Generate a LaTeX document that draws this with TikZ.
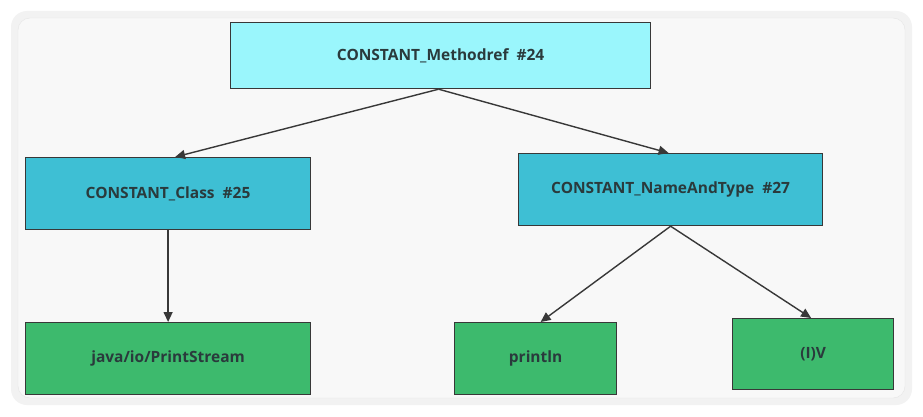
\documentclass[tikz,border=0pt]{standalone}
\usepackage{fontspec}
\setmainfont{Open Sans}
\usetikzlibrary{arrows.meta}
\definecolor{topc}{HTML}{9AF6FC}
\definecolor{midc}{HTML}{3EBFD4}
\definecolor{lowc}{HTML}{3DBA6D}
\definecolor{txt}{HTML}{2A3A3C}
\definecolor{edge}{HTML}{383838}
\definecolor{panel}{HTML}{F8F8F8}
\tikzset{
  box/.style={draw=edge, line width=1.2pt, inner sep=0pt, anchor=north west,
    font=\fontsize{15.5}{18}\selectfont\bfseries, text=txt},
  conn/.style={draw=edge, line width=1.4pt, -{Triangle[length=10pt,width=9pt]}},
}
\begin{document}
\begin{tikzpicture}[x=1pt,y=-1pt]
\useasboundingbox (0,0) rectangle (923,417);
\fill[white] (0,0) rectangle (923,417);
\fill[black!5, rounded corners=16pt] (11,11) rectangle (912,405);
\fill[panel, draw=black!10, rounded corners=12pt] (18,18) rectangle (905,398);
\node[box, fill=topc, minimum width=420pt, minimum height=66pt] (m) at (230,22) {CONSTANT\_Methodref\ \ \#24};
\node[box, fill=midc, minimum width=285pt, minimum height=72pt] (c) at (25,157) {CONSTANT\_Class\ \ \#25};
\node[box, fill=midc, minimum width=304pt, minimum height=72pt] (n) at (518,153) {CONSTANT\_NameAndType\ \ \#27};
\node[box, fill=lowc, minimum width=285pt, minimum height=72pt] (j) at (25,322) {java/io/PrintStream};
\node[box, fill=lowc, minimum width=162pt, minimum height=72pt] (p) at (454,322) {println};
\node[box, fill=lowc, minimum width=161pt, minimum height=71pt] (v) at (732,318) {(I)V};
\coordinate (mb) at ([xshift=-2pt]m.south);
\coordinate (ct) at ([xshift=7pt]c.north);
\coordinate (nt) at ([xshift=-2pt]n.north);
\coordinate (nb) at ([xshift=0pt]n.south);
\coordinate (pt) at ([xshift=5pt]p.north);
\coordinate (vt) at ([xshift=-2pt]v.north);
\draw[conn] (mb) -- (ct);
\draw[conn] (mb) -- (nt);
\draw[conn] (c.south) -- (j.north);
\draw[conn] (nb) -- (pt);
\draw[conn] (nb) -- (vt);
\end{tikzpicture}
\end{document}
